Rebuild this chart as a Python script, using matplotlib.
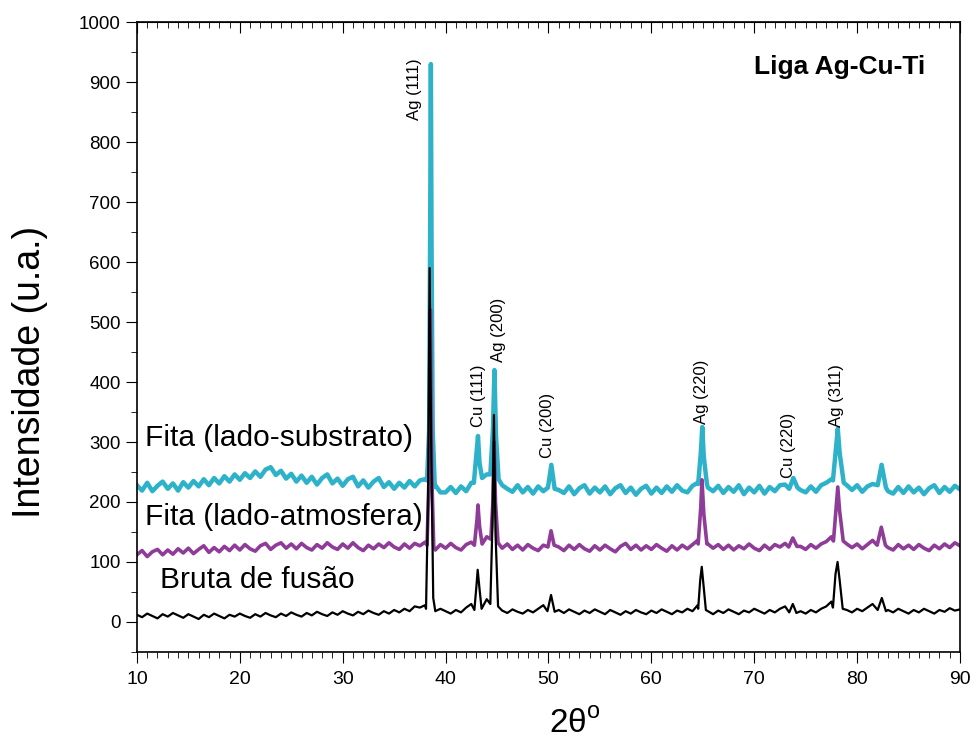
import numpy as np
import matplotlib.pyplot as plt
from matplotlib.ticker import MultipleLocator

plt.rcParams['font.family'] = ['Liberation Sans', 'DejaVu Sans']
plt.rcParams['mathtext.fontset'] = 'custom'
plt.rcParams['mathtext.rm'] = 'Liberation Sans'

# baseline grid 10..90 every 0.5 degree
two_theta = np.arange(10, 90.01, 0.5)

substrato_base = [
    228, 219, 232, 218, 227, 234, 222, 231, 219, 233,
    224, 235, 226, 238, 228, 240, 231, 243, 234, 246,
    237, 248, 240, 251, 242, 254, 258, 245, 252, 239,
    247, 234, 244, 232, 242, 229, 240, 246, 231, 239,
    227, 238, 242, 226, 236, 224, 234, 240, 225, 233,
    222, 232, 224, 235, 226, 236, 238, 218, 228, 216,
    216, 225, 215, 226, 218, 232, 238, 238, 246, 240,
    236, 228, 222, 217, 228, 216, 225, 214, 226, 218,
    228, 232, 220, 215, 226, 213, 223, 228, 214, 224,
    216, 226, 213, 223, 228, 215, 224, 212, 222, 227,
    214, 224, 215, 226, 217, 228, 219, 216, 227, 232,
    235, 224, 218, 227, 215, 225, 217, 228, 213, 224,
    216, 227, 214, 225, 218, 228, 229, 234, 224, 220,
    216, 226, 217, 228, 232, 238, 244, 236, 228, 220,
    228, 217, 226, 230, 238, 226, 218, 214, 225, 215,
    226, 216, 224, 213, 223, 228, 215, 225, 217, 227,
    221]

atmosfera_base = [
    112, 119, 109, 117, 121, 112, 120, 113, 122, 115,
    123, 114, 121, 127, 116, 124, 117, 126, 119, 128,
    120, 129, 122, 118, 127, 131, 121, 128, 132, 123,
    130, 122, 131, 124, 120, 129, 123, 132, 125, 121,
    130, 123, 132, 124, 119, 128, 122, 130, 124, 132,
    125, 121, 130, 123, 131, 127, 133, 125, 120, 129,
    123, 131, 124, 120, 129, 133, 138, 131, 142, 136,
    130, 123, 130, 121, 128, 120, 129, 123, 119, 128,
    132, 138, 125, 119, 128, 121, 129, 122, 118, 127,
    120, 128, 122, 117, 126, 131, 121, 128, 120, 127,
    121, 129, 123, 118, 127, 120, 128, 122, 129, 136,
    140, 130, 123, 129, 121, 128, 120, 127, 122, 130,
    123, 119, 128, 121, 129, 125, 131, 138, 133, 126,
    121, 129, 123, 130, 134, 142, 150, 140, 130, 124,
    130, 122, 129, 136, 145, 132, 124, 120, 129, 122,
    128, 121, 129, 123, 119, 128, 122, 130, 124, 132,
    127]

bruta_base = [
    12, 8, 14, 10, 6, 13, 9, 15, 11, 7,
    13, 9, 5, 12, 8, 14, 10, 6, 12, 9,
    14, 10, 7, 13, 9, 15, 11, 8, 14, 10,
    16, 12, 9, 15, 11, 17, 13, 10, 16, 12,
    18, 14, 11, 17, 13, 19, 15, 12, 18, 14,
    20, 16, 22, 18, 26, 24, 28, 20, 16, 22,
    18, 14, 20, 16, 24, 30, 34, 26, 38, 30,
    24, 19, 15, 21, 17, 14, 20, 16, 22, 28,
    36, 30, 20, 15, 21, 17, 13, 19, 15, 21,
    17, 13, 20, 16, 12, 18, 14, 20, 16, 13,
    19, 15, 21, 17, 13, 19, 16, 22, 18, 28,
    32, 18, 13, 19, 15, 21, 17, 13, 19, 16,
    22, 18, 14, 20, 16, 22, 26, 30, 22, 18,
    14, 20, 16, 22, 26, 34, 40, 28, 20, 16,
    22, 18, 24, 30, 38, 28, 20, 16, 22, 18,
    14, 20, 16, 22, 18, 14, 20, 17, 23, 19,
    21]

# peak profiles (2theta, intensity)
substrato_peaks = [
    [(38.2, 236), (38.4, 320), (38.5, 650), (38.57, 930), (38.64, 620), (38.75, 320), (38.95, 225)],
    [(42.75, 232), (42.95, 270), (43.15, 310), (43.3, 265), (43.55, 240)],
    [(44.35, 246), (44.6, 320), (44.75, 420), (44.9, 310), (45.15, 238)],
    [(49.95, 224), (50.28, 262), (50.6, 222)],
    [(64.55, 230), (64.8, 280), (64.95, 325), (65.1, 275), (65.4, 230)],
    [(73.4, 222), (73.8, 240), (74.2, 224)],
    [(77.65, 236), (77.95, 290), (78.12, 322), (78.3, 282), (78.7, 232)],
    [(82.0, 228), (82.38, 262), (82.8, 224)],
]
atmosfera_peaks = [
    [(38.2, 128), (38.4, 250), (38.52, 520), (38.65, 250), (38.85, 126)],
    [(42.8, 128), (43.05, 170), (43.15, 195), (43.3, 160), (43.55, 130)],
    [(44.4, 138), (44.6, 200), (44.72, 300), (44.85, 200), (45.1, 132)],
    [(49.95, 125), (50.25, 152), (50.55, 128)],
    [(64.55, 130), (64.8, 190), (64.92, 237), (65.1, 180), (65.4, 130)],
    [(73.35, 125), (73.75, 140), (74.15, 126)],
    [(77.7, 135), (78.0, 200), (78.12, 225), (78.3, 185), (78.65, 135)],
    [(81.95, 128), (82.35, 158), (82.75, 128)],
]
bruta_peaks = [
    [(38.1, 22), (38.3, 210), (38.45, 590), (38.6, 300), (38.8, 40), (39.0, 18)],
    [(42.8, 20), (43.0, 60), (43.12, 87), (43.3, 55), (43.5, 22)],
    [(44.35, 30), (44.55, 160), (44.7, 345), (44.85, 150), (45.1, 26)],
    [(49.9, 18), (50.25, 45), (50.6, 17)],
    [(64.55, 22), (64.75, 70), (64.9, 92), (65.05, 65), (65.3, 20)],
    [(73.4, 16), (73.75, 30), (74.1, 15)],
    [(77.65, 24), (77.9, 80), (78.1, 100), (78.3, 70), (78.6, 22)],
    [(82.0, 20), (82.4, 40), (82.8, 18)],
]

peak_labels = ['Ag (111)', 'Cu (111)', 'Ag (200)', 'Cu (200)', 'Ag (220)', 'Cu (220)', 'Ag (311)']
label_x = [37.0, 43.2, 45.1, 49.9, 64.9, 73.3, 78.0]
label_y = [888, 377, 487, 327, 383, 295, 378]


def build(base, peaks):
    x = np.array(two_theta)
    y = np.array(base, dtype=float)
    keep = np.ones(len(x), dtype=bool)
    for pk in peaks:
        lo, hi = pk[0][0], pk[-1][0]
        keep &= ~((x >= lo) & (x <= hi))
    px = np.concatenate([x[keep]] + [np.array([p[0] for p in pk]) for pk in peaks])
    py = np.concatenate([y[keep]] + [np.array([p[1] for p in pk]) for pk in peaks])
    order = np.argsort(px)
    return px[order], py[order]


fig = plt.figure(figsize=(9.78, 7.52), dpi=100)
ax = fig.add_axes([0.140, 0.133, 0.8416, 0.8377])

xs, ys = build(substrato_base, substrato_peaks)
ax.plot(xs, ys, color='#2DB2C9', lw=3.2)
xa, ya = build(atmosfera_base, atmosfera_peaks)
ax.plot(xa, ya, color='#8E3C98', lw=2.6)
xb, yb = build(bruta_base, bruta_peaks)
ax.plot(xb, yb, color='#000000', lw=1.6)

for lab, lx, ly in zip(peak_labels, label_x, label_y):
    ax.text(lx, ly, lab, rotation=90, ha='center', va='center', fontsize=12)

ax.text(10.8, 307, 'Fita (lado-substrato)', fontsize=21.5, va='center', ha='left')
ax.text(10.8, 175, 'Fita (lado-atmosfera)', fontsize=21.5, va='center', ha='left')
ax.text(12.2, 70, 'Bruta de fusão', fontsize=21.5, va='center', ha='left')
ax.text(86.6, 925, 'Liga Ag-Cu-Ti', fontsize=19, fontweight='bold', ha='right', va='center')

ax.set_xlim(10, 90)
ax.set_ylim(-50, 1000)
ax.xaxis.set_major_locator(MultipleLocator(10))
ax.xaxis.set_minor_locator(MultipleLocator(1))
ax.yaxis.set_major_locator(MultipleLocator(100))
ax.yaxis.set_minor_locator(MultipleLocator(50))
ax.tick_params(axis='x', which='both', direction='out', labelsize=14, pad=6)
ax.tick_params(axis='x', which='major', length=8)
ax.tick_params(axis='x', which='minor', length=4)
ax.tick_params(axis='y', which='major', direction='out', length=8, labelsize=13.5)
ax.tick_params(axis='y', which='minor', direction='out', length=4)
for sp in ax.spines.values():
    sp.set_linewidth(1.2)

# inward ticks along the top edge
top = ax.secondary_xaxis('top')
top.xaxis.set_major_locator(MultipleLocator(10))
top.xaxis.set_minor_locator(MultipleLocator(1))
top.tick_params(which='both', direction='in', labeltop=False)
top.tick_params(which='major', length=8)
top.tick_params(which='minor', length=4)

ax.set_ylabel('Intensidade (u.a.)', fontsize=27)
ax.yaxis.set_label_coords(-0.108, 0.444)
ax.set_xlabel('2θ$^{\\rm o}$', fontsize=24)
ax.xaxis.set_label_coords(0.532, -0.09)

fig.savefig('out.png', dpi=100)
